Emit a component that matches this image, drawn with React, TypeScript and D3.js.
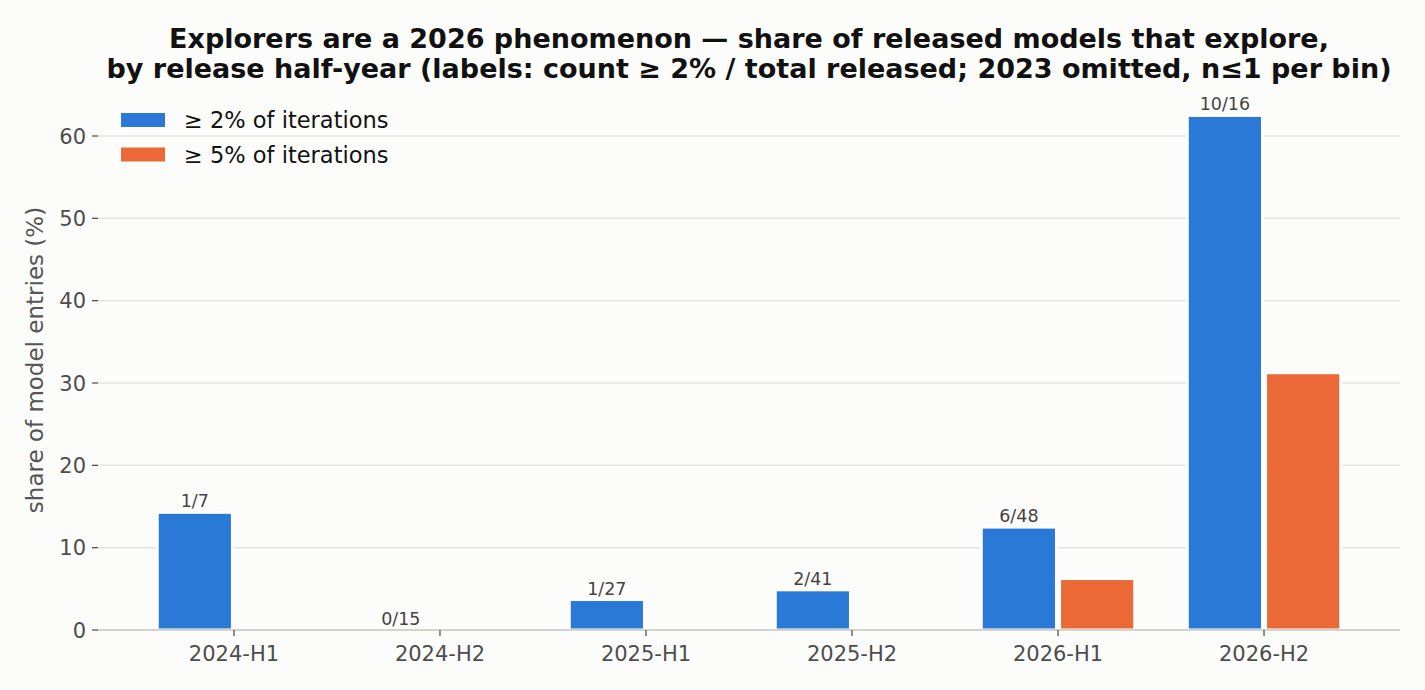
import * as d3 from "d3";

// Release half-year bins
const categories = ["2024-H1", "2024-H2", "2025-H1", "2025-H2", "2026-H1", "2026-H2"];
// share (%) of released models exploring in >= 2% / >= 5% of iterations
const share2 = [14.29, 0, 3.7, 4.88, 12.5, 62.5];
const share5 = [0, 0, 0, 0, 6.25, 31.25];
// bar labels: count >= 2% / total released
const labels2 = ["1/7", "0/15", "1/27", "2/41", "6/48", "10/16"];
const yTicks = [0, 10, 20, 30, 40, 50, 60];
const seriesNames = ["≥ 2% of iterations", "≥ 5% of iterations"];

const W = 1425;
const H = 690;
const BLUE = "#2b79d6";
const ORANGE = "#eb6936";
const FONT = "'DejaVu Sans', sans-serif";

export default function App() {
  const margin = { top: 90, right: 25, bottom: 60, left: 98 };
  const x = d3
    .scaleLinear()
    .domain([-0.66, 5.66])
    .range([margin.left, W - margin.right]);
  const y = d3
    .scaleLinear()
    .domain([0, 60])
    .range([H - margin.bottom, 136]);

  const unit = x(1) - x(0);
  const offset = 0.19 * unit;
  const barW = 0.365 * unit;
  const base = y(0);
  const cx = (margin.left + W - margin.right) / 2;

  const bars = (vals: number[], sign: number, color: string) =>
    vals.map((v, i) =>
      v > 0 ? (
        <rect
          key={i}
          x={x(i) + sign * offset - barW / 2}
          y={y(v)}
          width={barW}
          height={base - y(v)}
          fill={color}
          stroke="#ffffff"
          strokeWidth={3}
        />
      ) : null,
    );

  return (
    <svg
      width={W}
      height={H}
      style={{ display: "block", position: "absolute", left: 0, top: 0, background: "#fcfcfa" }}
      fontFamily={FONT}
    >
      <rect width={W} height={H} fill="#fcfcfa" />

      {/* title */}
      <text textAnchor="middle" fontWeight="bold" fontSize={27} fill="#111">
        <tspan x={cx} y={48}>
          Explorers are a 2026 phenomenon — share of released models that explore,
        </tspan>
        <tspan x={cx} y={78}>
          by release half-year (labels: count ≥ 2% / total released; 2023 omitted, n≤1 per bin)
        </tspan>
      </text>

      {/* grid */}
      {yTicks.slice(1).map((t) => (
        <line key={t} x1={margin.left} x2={W - margin.right} y1={y(t)} y2={y(t)} stroke="#e4e4df" strokeWidth={1.5} />
      ))}

      {/* y ticks */}
      {yTicks.map((t) => (
        <g key={t}>
          <line x1={margin.left - 6} x2={margin.left} y1={y(t)} y2={y(t)} stroke="#555" strokeWidth={1.3} />
          <text x={margin.left - 12} y={y(t)} dy="0.36em" textAnchor="end" fontSize={21} fill="#4d4d4d">
            {t}
          </text>
        </g>
      ))}

      {/* bars */}
      {bars(share2, -1, BLUE)}
      {bars(share5, 1, ORANGE)}

      {/* bar labels */}
      {labels2.map((l, i) => (
        <text key={l} x={x(i) - offset} y={y(share2[i]) - 5} textAnchor="middle" fontSize={17.5} fill="#444">
          {l}
        </text>
      ))}

      {/* x axis */}
      <line x1={margin.left} x2={W - margin.right} y1={base} y2={base} stroke="#c6c6bd" strokeWidth={1.5} />
      {categories.map((c, i) => (
        <g key={c}>
          <line x1={x(i)} x2={x(i)} y1={base} y2={base + 6} stroke="#555" strokeWidth={1.3} />
          <text x={x(i)} y={base + 31} textAnchor="middle" fontSize={21} fill="#4d4d4d">
            {c}
          </text>
        </g>
      ))}

      {/* y label */}
      <text
        transform={`translate(43,${(90 + base) / 2}) rotate(-90)`}
        textAnchor="middle"
        fontSize={23}
        fill="#555"
      >
        share of model entries (%)
      </text>

      {/* legend */}
      {seriesNames.map((s, i) => (
        <g key={s} transform={`translate(121,${113 + i * 34.5})`}>
          <rect width={44} height={14} fill={i === 0 ? BLUE : ORANGE} />
          <text x={63} y={7} dy="0.36em" fontSize={22.5} fill="#111">
            {s}
          </text>
        </g>
      ))}
    </svg>
  );
}
